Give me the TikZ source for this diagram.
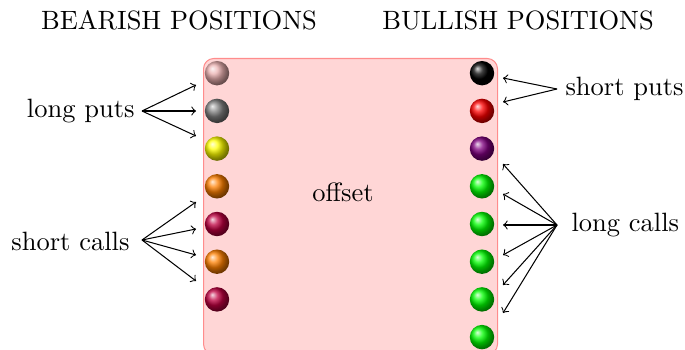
\documentclass[tikz,border=0pt]{standalone}
\usetikzlibrary{shadings}
\begin{document}
\begin{tikzpicture}[x=0.389pt,y=-0.389pt,
  ballnode/.style={circle,inner sep=0pt,minimum size=9.5pt,shading=ball,ball color=#1},
  lbl/.style={inner sep=0pt,font=\fontsize{10.3pt}{12pt}\selectfont},
  link/.style={->,line width=0.4pt}]
\useasboundingbox (0,0) rectangle (685,350);
% offset panel
\node[draw=red!45,fill=red!16,rounded corners=4pt,minimum width=294*0.389pt,
  minimum height=296*0.389pt,inner sep=0pt,anchor=north west] (panel) at (203,58) {};
\node[lbl] (offset) at (343,192) {offset};
% headings
\node[lbl] (bear) at (179,20) {BEARISH POSITIONS};
\node[lbl] (bull) at (518,20) {BULLISH POSITIONS};
% left column of positions
\foreach \c [count=\i] in {pink!92!black,gray,yellow,orange,purple,orange,purple}
  \node[ballnode=\c] (L\i) at (217,{35.5+37.7*\i}) {};
% right column of positions
\foreach \c [count=\i] in {black,red,violet,green,green,green,green,green}
  \node[ballnode=\c] (R\i) at (482,{35.5+37.7*\i}) {};
% labels
\node[lbl,anchor=east] (lp) at (135,111) {long puts};
\node[lbl,anchor=east] (sc) at (130,241) {short calls};
\node[lbl,anchor=west] (sp) at (565,89) {short puts};
\node[lbl,anchor=west] (lc) at (571,225) {long calls};
% arrow hubs
\coordinate (lpo) at (142,111);
\coordinate (sco) at (142,240);
\coordinate (spo) at (557,89);
\coordinate (lco) at (557,225);
% arrow ends
\foreach \y [count=\i] in {85,111,136} \coordinate (lpt\i) at (196,\y);
\foreach \y [count=\i] in {202,229,255,281} \coordinate (sct\i) at (196,\y);
\foreach \y [count=\i] in {78,102} \coordinate (spt\i) at (503,\y);
\foreach \y [count=\i] in {164,194,225,255,285,313} \coordinate (lct\i) at (503,\y);
% arrows
\foreach \i in {1,...,3} \draw[link] (lpo) -- (lpt\i);
\foreach \i in {1,...,4} \draw[link] (sco) -- (sct\i);
\foreach \i in {1,2} \draw[link] (spo) -- (spt\i);
\foreach \i in {1,...,6} \draw[link] (lco) -- (lct\i);
\end{tikzpicture}
\end{document}
